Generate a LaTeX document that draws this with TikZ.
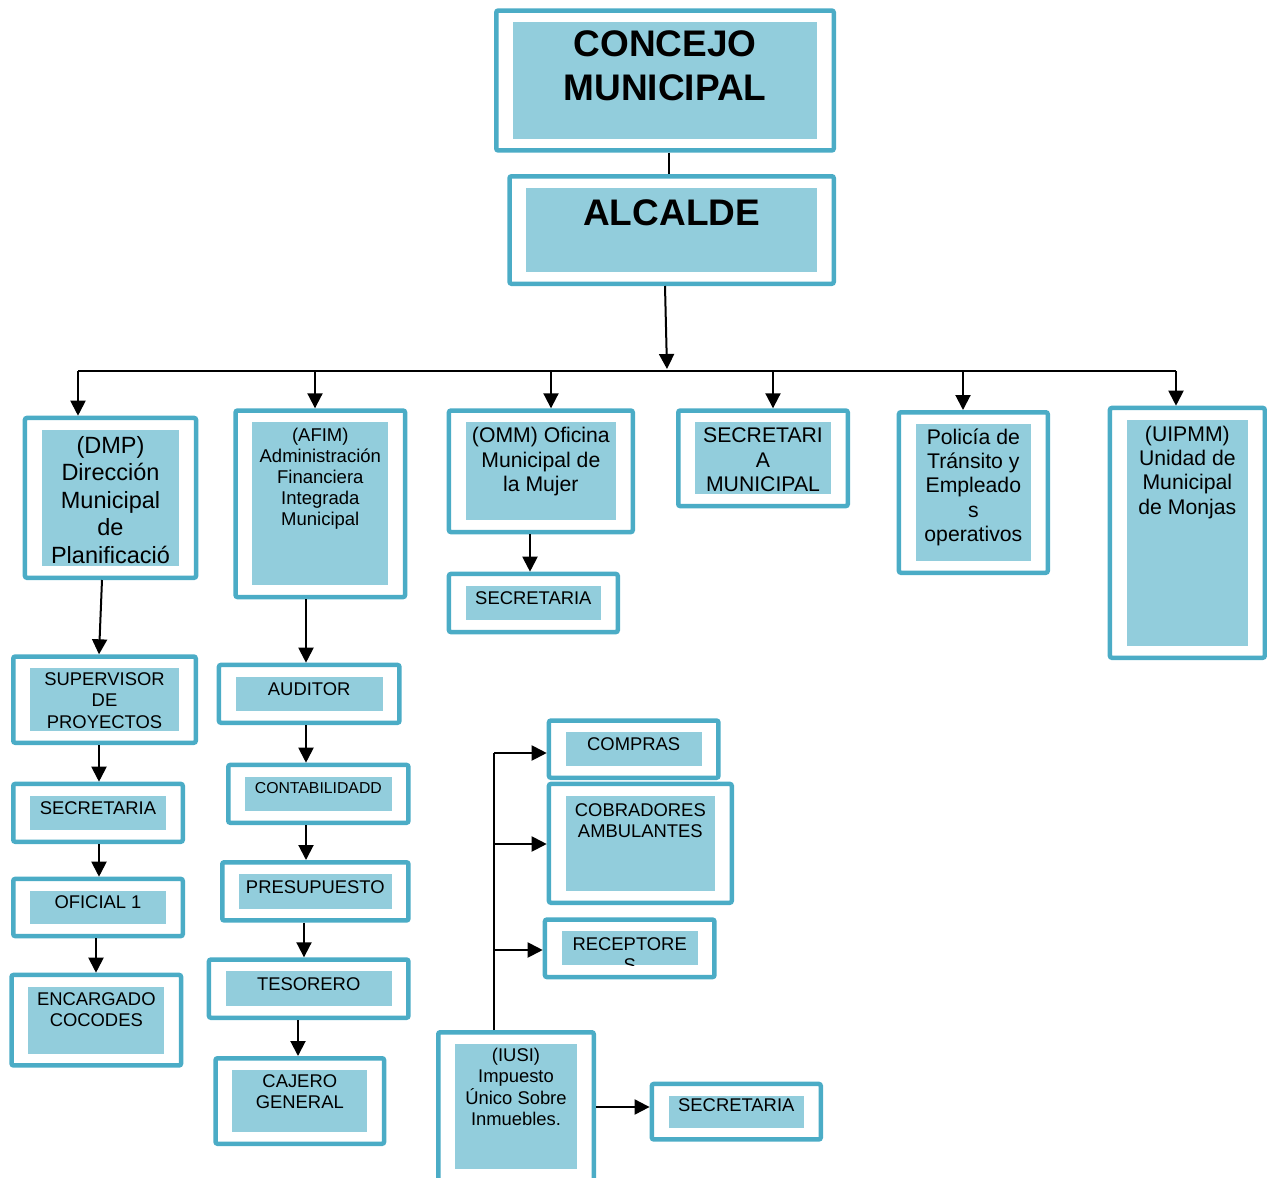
\documentclass[tikz,border=0pt]{standalone}
\usepackage{fontspec}
\setmainfont{Liberation Sans}
\usetikzlibrary{arrows.meta}
\definecolor{tealb}{HTML}{4BACC6}
\definecolor{lblue}{HTML}{92CDDC}
\newcommand\fszA{\fontsize{18.4}{21.2}\selectfont}
\newcommand\fszB{\fontsize{21.2}{24.4}\selectfont}
\newcommand\fszC{\fontsize{23.5}{27.5}\selectfont}
\newcommand\fszD{\fontsize{37}{44.7}\selectfont\bfseries}
\newcommand\fszE{\fontsize{15.8}{18}\selectfont}
\newcommand\fszF{\fontsize{18.5}{21}\selectfont}
\tikzset{
  outerbox/.style={draw=tealb, line width=4.5pt, fill=white, rounded corners=2pt, rectangle, inner sep=0pt},
  innerbox/.style={fill=lblue, rectangle, inner sep=0pt, outer sep=0pt},
  txt/.style={anchor=base, inner sep=0pt, outer sep=0pt, text=black},
  conn/.style={draw=black, line width=2pt},
  arr/.style={conn, -{Triangle[length=15pt,width=15pt]}}
}
\newcommand\obox[8]{%
  \node[outerbox, minimum width={#4-#2-4.5}, minimum height={#5-#3-4.5}] (#1) at ({(#2+#4)/2},{(#3+#5)/2}) {};
  \node[innerbox, minimum width={#4-#2-38}, minimum height={#5-#3-28}] (#1i) at (#1.center) {};
  \node[txt] (#1t) at ({(#2+#4)/2},#7) {\parbox[t]{300pt}{#6\centering #8}};
}
\begin{document}
\begin{tikzpicture}[x=1pt,y=-1pt]
\useasboundingbox (0,0) rectangle (1267,1178);

% boxes
\obox{conc}{494}{8.3}{836}{152.7}{\fszD}{56}{CONCEJO\\MUNICIPAL}
\obox{alc}{507.3}{174}{836}{286}{\fszD}{225}{ALCALDE}
\obox{dmp}{22.7}{415.7}{198.3}{580}{\fszC}{453}{(DMP)\\Dirección\\Municipal\\de\\Planificació}
\obox{afim}{233.3}{408.3}{407.3}{599.3}{\fszF}{441.7}{(AFIM)\\Administración\\Financiera\\Integrada\\Municipal}
\obox{omm}{446.7}{408.3}{635}{534.3}{\fszB}{442.7}{(OMM) Oficina\\Municipal de\\la Mujer}
\obox{secmun}{676}{408.3}{850}{508.3}{\fszB}{442.7}{SECRETARI\\A\\MUNICIPAL}
\obox{pol}{896.7}{410}{1050}{575}{\fszB}{444}{Policía de\\Tránsito y\\Empleado\\s\\operativos}
\obox{uip}{1107.7}{405.7}{1267}{660}{\fszB}{441}{(UIPMM)\\Unidad de\\Municipal\\de Monjas}
\obox{secomm}{446.7}{571.7}{620}{634.3}{\fszA}{604}{SECRETARIA}
\obox{sup}{11}{654.3}{198}{745}{\fszA}{685.7}{SUPERVISOR\\DE\\PROYECTOS}
\obox{secdmp}{11}{781.7}{185}{844}{\fszA}{814}{SECRETARIA}
\obox{ofi}{11}{876.7}{185}{938.3}{\fszA}{908.7}{OFICIAL 1}
\obox{enc}{9.3}{972.7}{183.3}{1067.7}{\fszA}{1005}{ENCARGADO\\COCODES}
\obox{aud}{216.7}{662.7}{401.7}{725}{\fszA}{695}{AUDITOR}
\obox{cont}{226}{762.7}{410.7}{825}{\fszE}{793.3}{CONTABILIDADD}
\obox{pres}{220}{860}{410.7}{922.7}{\fszA}{893}{PRESUPUESTO}
\obox{tes}{206.7}{957.3}{410.7}{1020}{\fszA}{990}{TESORERO}
\obox{caj}{213.3}{1056}{386.3}{1146}{\fszA}{1087.3}{CAJERO\\GENERAL}
\obox{comp}{546.7}{718.3}{720.7}{780}{\fszA}{750.7}{COMPRAS}
\obox{cob}{546.7}{781.7}{734}{905}{\fszA}{816.7}{COBRADORES\\AMBULANTES}
\obox{rec}{542.7}{917.3}{716.7}{979.3}{\fszA}{950}{}
\begin{scope}
  \clip (reci.south west) rectangle (reci.north east);
  \node[txt] (rectxt) at ({(542.7+716.7)/2},950) {\parbox[t]{300pt}{\fszA\centering RECEPTORE\\S}};
\end{scope}
\obox{iusi}{436}{1030}{596}{1183}{\fszA}{1061.7}{(IUSI)\\Impuesto\\Único Sobre\\Inmuebles.}
\obox{secius}{649.6}{1081.7}{823}{1141.7}{\fszA}{1111.7}{SECRETARIA}

% helper coordinates
\coordinate (x669) at (669,0);
\coordinate (x665) at (665,0);
\coordinate (barc) at (667,369);
\coordinate (bl) at (78,371);
\coordinate (b2) at (315,371);
\coordinate (b3) at (551,371);
\coordinate (b4) at (773,371);
\coordinate (b5) at (963,371);
\coordinate (br) at (1176,371);
\coordinate (x102) at (102,0);
\coordinate (x99) at (99,0);
\coordinate (x95) at (96,0);
\coordinate (x306) at (306,0);
\coordinate (x304) at (304,0);
\coordinate (x298) at (298,0);
\coordinate (x530) at (530,0);
\coordinate (x494) at (494,0);
\coordinate (v1) at (494,753);
\coordinate (v2) at (494,844);
\coordinate (v3) at (494,950);
\coordinate (h3) at (0,1107);

% top connectors
\draw[conn] (conc.south -| x669) -- (alc.north -| x669);
\draw[arr] (alc.south -| x665) -- (barc);
\draw[conn] (bl) -- (br);
\draw[arr] (bl) -- (bl |- dmp.north);
\draw[arr] (b2) -- (b2 |- afim.north);
\draw[arr] (b3) -- (b3 |- omm.north);
\draw[arr] (b4) -- (b4 |- secmun.north);
\draw[arr] (b5) -- (b5 |- pol.north);
\draw[arr] (br) -- (br |- uip.north);

% DMP column
\draw[arr] (dmp.south -| x102) -- (sup.north -| x99);
\draw[arr] (sup.south -| x99) -- (secdmp.north -| x99);
\draw[arr] (secdmp.south -| x99) -- (ofi.north -| x99);
\draw[arr] (ofi.south -| x95) -- (enc.north -| x95);

% AFIM column
\draw[arr] (afim.south -| x306) -- (aud.north -| x306);
\draw[arr] (aud.south -| x306) -- (cont.north -| x306);
\draw[arr] (cont.south -| x306) -- (pres.north -| x306);
\draw[arr] (pres.south -| x304) -- (tes.north -| x304);
\draw[arr] (tes.south -| x298) -- (caj.north -| x298);

% OMM
\draw[arr] (omm.south -| x530) -- (secomm.north -| x530);

% IUSI
\draw[conn] (iusi.north -| x494) -- (v1);
\draw[arr] (v1) -- (v1 -| comp.west);
\draw[arr] (v2) -- (v2 -| cob.west);
\draw[arr] (v3) -- (v3 -| rec.west);
\draw[arr] (iusi.east |- h3) -- (secius.west |- h3);
\end{tikzpicture}
\end{document}
